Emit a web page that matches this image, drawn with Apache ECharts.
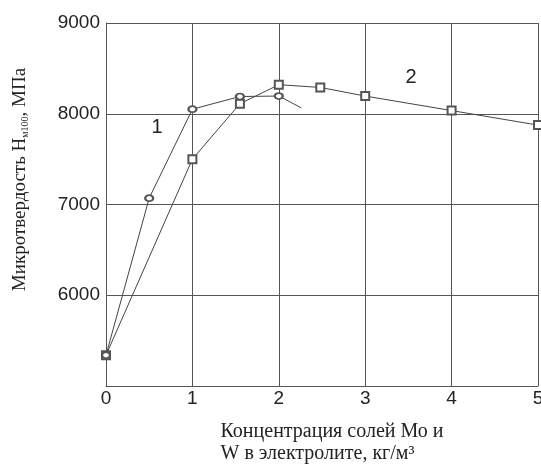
<!DOCTYPE html>
<html lang="ru">
<head>
    <meta charset="UTF-8">
    <title>Микротвердость</title>
    <script src="https://cdn.jsdelivr.net/npm/echarts@6/dist/echarts.min.js"></script>
    <style>
        html, body { margin: 0; padding: 0; background: #fff; }
    </style>
</head>
<body>
    <div id="main" style="width: 541px; height: 465px"></div>
    <script>
        // кривая 1 (кружки), последняя точка без маркера
        var x1 = [0, 0.5, 1, 1.55, 2, 2.26];
        var y1 = [5340, 7070, 8050, 8190, 8195, 8065];
        // кривая 2 (квадраты)
        var x2 = [0, 1, 1.55, 2, 2.48, 3, 4, 5];
        var y2 = [5340, 7500, 8110, 8320, 8290, 8195, 8035, 7875];
        // подписи кривых
        var curveNames = ['1', '2'];
        var curveLabelPos = [[0.59, 7846], [3.53, 8396]];

        var lineColor = '#444';
        var gridColor = '#555';

        function pairs(xs, ys) {
            var res = [];
            for (var i = 0; i < xs.length; i++) {
                res.push([xs[i], ys[i]]);
            }
            return res;
        }

        var data1 = pairs(x1, y1);
        // хвост первой кривой без маркера
        data1[data1.length - 1] = { value: data1[data1.length - 1], symbol: 'none' };

        function curveLabel(i) {
            return {
                symbol: 'circle',
                symbolSize: 1,
                itemStyle: { color: 'rgba(0,0,0,0)' },
                label: {
                    show: true,
                    position: 'inside',
                    formatter: curveNames[i],
                    fontFamily: 'Liberation Sans',
                    fontSize: 20,
                    color: '#222'
                },
                data: [{ coord: curveLabelPos[i] }]
            };
        }

        echarts.init(document.getElementById('main')).setOption({
            animation: false,
            backgroundColor: '#fff',
            grid: {
                left: 106,
                right: 3,
                top: 23,
                bottom: 79,
                outerBoundsMode: 'none'
            },
            xAxis: {
                type: 'value',
                min: 0,
                max: 5,
                interval: 1,
                name: '{t|Концентрация солей Мо и}\n{t|W в электролите, кг/м³}',
                nameLocation: 'middle',
                nameGap: 35,
                nameTextStyle: {
                    padding: [0, 0, 0, 20],
                    rich: {
                        t: { fontFamily: 'Liberation Serif', fontSize: 20, lineHeight: 22, color: '#222', align: 'left' }
                    }
                },
                axisLine: { lineStyle: { color: gridColor, width: 1 } },
                axisTick: { show: false },
                axisLabel: {
                    margin: 3,
                    fontFamily: 'Liberation Sans',
                    fontSize: 19,
                    color: '#222'
                },
                splitLine: { show: true, lineStyle: { color: gridColor, width: 1 } }
            },
            yAxis: {
                type: 'value',
                min: 5000,
                max: 9000,
                interval: 1000,
                name: '{t|Микротвердость Н}{s|м100}{t|, МПа}',
                nameLocation: 'middle',
                nameGap: 76,
                nameTextStyle: {
                    padding: [0, 0, 0, 50],
                    rich: {
                        t: { fontFamily: 'Liberation Serif', fontSize: 19, color: '#222' },
                        s: { fontFamily: 'Liberation Serif', fontSize: 10, color: '#222', verticalAlign: 'bottom', padding: [6, 0, 0, 0] }
                    }
                },
                axisLine: { show: true, lineStyle: { color: gridColor, width: 1 } },
                axisTick: { show: false },
                axisLabel: {
                    margin: 6,
                    fontFamily: 'Liberation Sans',
                    fontSize: 19,
                    color: '#222',
                    formatter: function (v) { return v === 5000 ? '' : String(v); }
                },
                splitLine: { show: true, lineStyle: { color: gridColor, width: 1 } }
            },
            series: [
                {
                    name: curveNames[1],
                    type: 'line',
                    z: 2,
                    data: pairs(x2, y2),
                    symbol: 'emptyRect',
                    symbolSize: 8,
                    lineStyle: { color: lineColor, width: 1 },
                    itemStyle: { color: '#555', borderWidth: 1 },
                    markPoint: curveLabel(1)
                },
                {
                    name: curveNames[0],
                    type: 'line',
                    z: 3,
                    data: data1,
                    symbol: 'emptyCircle',
                    symbolSize: [8, 6],
                    lineStyle: { color: lineColor, width: 1 },
                    itemStyle: { color: '#555', borderWidth: 1 },
                    markPoint: curveLabel(0)
                }
            ]
        });
    </script>
</body>
</html>
